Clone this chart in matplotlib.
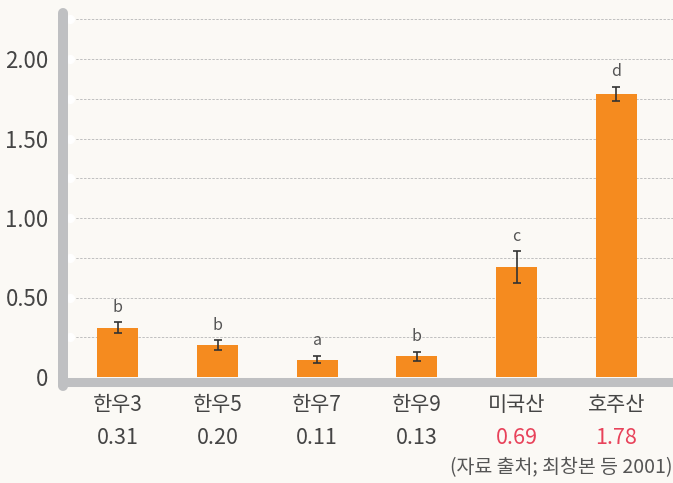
import numpy as np
import matplotlib
matplotlib.use("Agg")
import matplotlib.pyplot as plt
from matplotlib.lines import Line2D

plt.rcParams['font.family'] = ['Noto Sans CJK KR', 'DejaVu Sans']
plt.rcParams['font.weight'] = 'light'

# 데이터
names = ['한우3', '한우5', '한우7', '한우9', '미국산', '호주산']
values = [0.31, 0.20, 0.11, 0.13, 0.69, 1.78]
errors = [0.035, 0.03, 0.024, 0.03, 0.10, 0.045]
letters = ['b', 'b', 'a', 'b', 'c', 'd']
value_labels = ['0.31', '0.20', '0.11', '0.13', '0.69', '1.78']
highlight = [False, False, False, False, True, True]
yticks = [0, 0.5, 1.0, 1.5, 2.0]
ytick_labels = ['0', '0.50', '1.00', '1.50', '2.00']

W, H = 673, 483
bg = '#fbf9f5'
orange = '#f58b1f'
axis_gray = '#bfc0c2'
text_gray = '#454545'
red = '#e8425a'

fig = plt.figure(figsize=(W / 100, H / 100), dpi=100, facecolor=bg)
# axes: x 68..673 px, y 8..377 px
ax = fig.add_axes([68 / W, (H - 377) / H, (W - 68) / W, 369 / H])
ax.set_facecolor(bg)

x = np.arange(len(names))
ax.bar(x, values, width=0.41, color=orange, zorder=3)
ax.errorbar(x, values, yerr=errors, fmt='none', ecolor='#333333',
            elinewidth=1.2, capsize=2.8, capthick=1.2, zorder=4)

for xi, v, e, l in zip(x, values, errors, letters):
    ax.annotate(l, (xi, v + e), xytext=(0, 15), textcoords='offset pixels',
                ha='center', va='center', fontsize=11.5, color='#555555')

ax.set_xlim(-0.5, 5.57)
ax.set_ylim(0, 369 / 159)

# 격자선
ax.set_yticks(yticks)
ax.set_yticklabels(ytick_labels, fontsize=16, color=text_gray)
ax.set_yticks(np.arange(0.25, 2.3, 0.25), minor=True)
ax.tick_params(axis='y', which='both', length=0, pad=14)
ax.grid(axis='y', which='both', color='#c0c0c0', linestyle=(0, (2.5, 1.5)),
        linewidth=0.7, zorder=1)

ax.set_xticks(x)
ax.set_xticklabels(names, fontsize=15, color=text_gray)
ax.tick_params(axis='x', length=0, pad=12)

for xi, lab, hl in zip(x, value_labels, highlight):
    ax.annotate(lab, (xi, 0), xytext=(0, -61), textcoords='offset pixels',
                ha='center', va='center', fontsize=15.5,
                color=red if hl else text_gray)

for s in ax.spines.values():
    s.set_visible(False)

# 축 막대
fig.add_artist(Line2D([63 / W, 63 / W], [(H - 13) / H, (H - 386) / H],
                      color=axis_gray, linewidth=7.2, solid_capstyle='round'))
fig.add_artist(Line2D([58 / W, 1.0], [(H - 381.5) / H, (H - 381.5) / H],
                      color=axis_gray, linewidth=6.5, solid_capstyle='butt'))

# 흰 점
grid_pos = np.arange(0.25, 2.3, 0.25)
ax.plot(np.full(len(grid_pos), 1.5 / (W - 68)), grid_pos, 'o', color='white',
        markersize=5.5, transform=ax.get_yaxis_transform(), clip_on=False, zorder=5)

fig.text(1.0, (H - 468) / H, '(자료 출처; 최창본 등 2001)', ha='right', va='center',
         fontsize=14, color='#555555')

fig.savefig('out.png', dpi=100, facecolor=bg)
